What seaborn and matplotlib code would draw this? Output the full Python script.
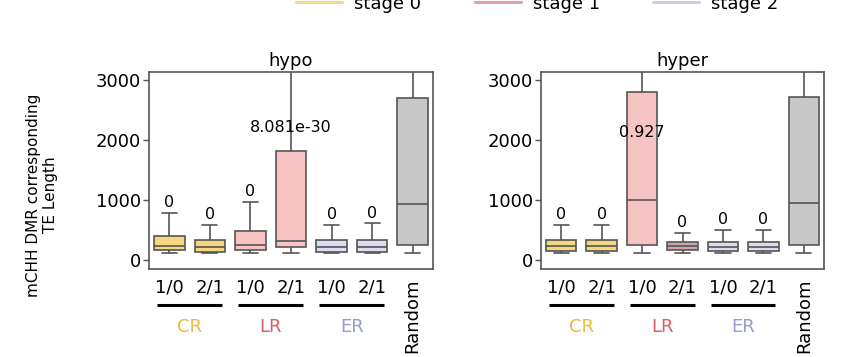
import numpy as np
import pandas as pd
import matplotlib.pyplot as plt
import matplotlib.transforms as mtransforms
from matplotlib.lines import Line2D
import seaborn as sns

sns.set_style("white")
plt.rcParams['font.family'] = ['DejaVu Sans']
plt.rcParams['text.color'] = 'black'
plt.rcParams['xtick.color'] = 'black'
plt.rcParams['ytick.color'] = 'black'

groups = ["CR 1/0", "CR 2/1", "LR 1/0", "LR 2/1", "ER 1/0", "ER 2/1", "Random"]
tick_labels = ["1/0", "2/1", "1/0", "2/1", "1/0", "2/1", "Random"]
pairs = ["CR", "LR", "ER"]
pair_colors = ["#E8B946", "#D75F64", "#969BC8"]

# box summaries: low whisker, q1, median, q3, high whisker
hypo_low = [117, 117, 117, 117, 117, 117, 117]
hypo_q1 = [167, 133, 167, 211, 133, 133, 250]
hypo_med = [238, 222, 250, 317, 222, 222, 928]
hypo_q3 = [405, 333, 489, 1817, 333, 333, 2694]
hypo_high = [783, 583, 972, 4000, 583, 611, 4000]
hypo_pval = ["0", "0", "0", "8.081e-30", "0", "0", ""]
hypo_pval_y = [783, 583, 972, 2040, 583, 611, 0]

hyper_low = [117, 117, 117, 117, 117, 117, 117]
hyper_q1 = [156, 156, 250, 167, 150, 150, 250]
hyper_med = [233, 233, 1000, 238, 222, 222, 944]
hyper_q3 = [333, 333, 2789, 294, 306, 306, 2706]
hyper_high = [583, 583, 4000, 456, 500, 500, 4000]
hyper_pval = ["0", "0", "0.927", "0", "0", "0", ""]
hyper_pval_y = [583, 583, 1950, 456, 500, 500, 0]

hypo_colors = ["#F5D77D", "#F5D77D", "#F8C3C3", "#F8C3C3", "#DCDCEE", "#DCDCEE", "#C8C8C8"]
hyper_colors = ["#F5D77D", "#F5D77D", "#F8C3C3", "#CDA5AA", "#DCDCEE", "#DCDCEE", "#C8C8C8"]

stages = ["stage 0", "stage 1", "stage 2"]
stage_colors = ["#F3D88A", "#E4A0A8", "#CFCDE3"]


def make_df(low, q1, med, q3, high):
    rows = []
    for g, a, b, c, d, e in zip(groups, low, q1, med, q3, high):
        for v in (a, b, c, d, e):
            rows.append({"group": g, "value": v})
    return pd.DataFrame(rows)


panels = [
    ("hypo", make_df(hypo_low, hypo_q1, hypo_med, hypo_q3, hypo_high), hypo_colors, hypo_pval, hypo_pval_y),
    ("hyper", make_df(hyper_low, hyper_q1, hyper_med, hyper_q3, hyper_high), hyper_colors, hyper_pval, hyper_pval_y),
]

fig = plt.figure(figsize=(8.6, 3.57), dpi=100)
ax_pos = [[149 / 860, 1 - 269 / 357, 284 / 860, 197 / 357],
          [541 / 860, 1 - 269 / 357, 283 / 860, 197 / 357]]

edge = "#555555"
for (title, df, colors, pvals, pval_y), pos in zip(panels, ax_pos):
    ax = fig.add_axes(pos)
    sns.boxplot(data=df, x="group", y="value", hue="group", order=groups,
                hue_order=groups, palette=colors, saturation=1, whis=np.inf,
                width=0.75, linecolor=edge, linewidth=1.2, legend=False, ax=ax)
    ax.set_xlim(-0.5, 6.5)
    ax.set_ylim(-150, 3130)
    ax.set_yticks([0, 1000, 2000, 3000])
    ax.set_xticks(range(len(groups)))
    ax.set_xticklabels(tick_labels, fontsize=13)
    ax.get_xticklabels()[-1].set_rotation(90)
    ax.get_xticklabels()[-1].set_va("top")
    ax.tick_params(axis="x", length=0, pad=7)
    ax.tick_params(axis="y", length=4, width=1, color=edge, labelcolor="black",
                   labelsize=13, pad=2, left=True)
    ax.set_xlabel("")
    ax.set_ylabel("")
    ax.set_title(title, fontsize=13, pad=4, color="black")
    for s in ax.spines.values():
        s.set_color(edge)
        s.set_linewidth(1.2)

    for i, (txt, yv) in enumerate(zip(pvals, pval_y)):
        if txt:
            ax.annotate(txt, (i, yv), xytext=(0, 2), textcoords="offset points",
                        ha="center", va="bottom", fontsize=11.5, color="black")

    trans = mtransforms.blended_transform_factory(ax.transData, ax.transAxes)
    for k, (name, c) in enumerate(zip(pairs, pair_colors)):
        center = 2 * k + 0.5
        ax.plot([center - 0.8, center + 0.8], [-0.183, -0.183], color="black",
                lw=2.2, transform=trans, clip_on=False, solid_capstyle="butt")
        ax.text(center, -0.294, name, color=c, fontsize=13, ha="center",
                va="center", transform=trans)

fig.text(42 / 860, 1 - 195 / 357, "mCHH DMR corresponding\nTE Length",
         rotation=90, ha="center", va="center", fontsize=11, multialignment="center")

handles = [Line2D([0], [0], color=c, lw=2.2) for c in stage_colors]
fig.legend(handles, stages, loc="center", bbox_to_anchor=(0.625, 0.99), ncol=3,
           frameon=False, fontsize=13, handlelength=2.55, handletextpad=0.67,
           columnspacing=2.95, borderaxespad=0)

fig.savefig("out.png", dpi=100)
